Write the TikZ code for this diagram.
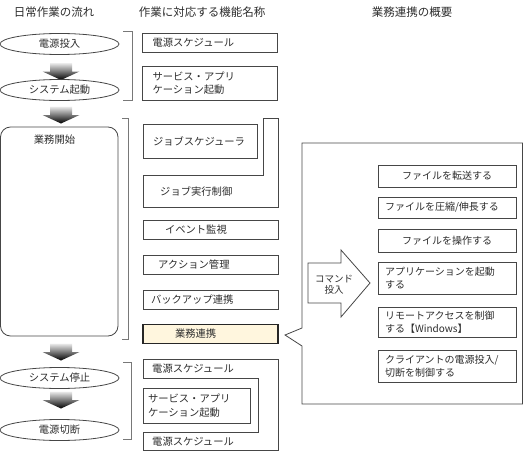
\documentclass[tikz,border=0pt]{standalone}
\usepackage{fontspec}
\setmainfont{Noto Sans CJK JP}
\usepackage{tikz}
\usetikzlibrary{shapes.geometric, arrows, calc, positioning}
\definecolor{linegray}{RGB}{70,70,70}
\definecolor{brackgray}{RGB}{120,120,120}
\definecolor{hlfill}{RGB}{255,246,222}
\definecolor{textgray}{RGB}{45,45,45}
\tikzstyle{heading} = [font=\fontsize{11.5}{13}\selectfont, text=textgray]
\tikzstyle{flow} = [ellipse, draw=linegray, line width=0.8pt, minimum width=119pt, minimum height=21pt, inner sep=0pt, font=\fontsize{10.3}{12}\selectfont]
\tikzstyle{func} = [rectangle, draw=linegray, line width=0.8pt, minimum width=135pt, minimum height=19pt, inner sep=0pt, font=\fontsize{10.3}{13.5}\selectfont]
\tikzstyle{funcl} = [func, inner xsep=10pt, text width=115pt, align=left]
\tikzstyle{task} = [rectangle, draw=linegray, line width=0.8pt, minimum width=138pt, minimum height=22pt, inner sep=0pt, font=\fontsize{10}{13.5}\selectfont]
\tikzstyle{taskl} = [task, inner xsep=7pt, text width=124pt, align=left]
\tikzstyle{plain} = [inner sep=0pt, font=\fontsize{10.3}{13.5}\selectfont, align=left]
\tikzstyle{outline} = [draw=linegray, line width=0.8pt]
\tikzstyle{bracket} = [draw=brackgray, line width=1pt]
\tikzset{dnarrow/.pic={
	\shade[top color=gray!15, bottom color=black] (-11,-8.5) -- (11,-8.5) -- (11,0) -- (18.5,0) -- (0,8.5) -- (-18.5,0) -- (-11,0) -- cycle;
}}

\begin{document}
\begin{tikzpicture}[x=1pt, y=-1pt, every node/.style={text=textgray}]
	\useasboundingbox (0,0) rectangle (524,452);
	% column titles
	\node[heading] (daily) at (54,12) {日常作業の流れ};
	\node[heading] (funcname) at (202,12) {作業に対応する機能名称};
	\node[heading] (linkage) at (412,12) {業務連携の概要};

	% daily flow
	\node[flow] (poweron) at (59.5,44) {電源投入};
	\pic at (61,71.5) {dnarrow};
	\node[flow] (sysstart) at (59.5,90) {システム起動};
	\pic at (61,115) {dnarrow};
	\draw[outline, rounded corners=10pt] (0.5,127) rectangle (118,336);
	\node[plain] (bizstart) at (54.5,140) {業務開始};
	\pic at (61,352) {dnarrow};
	\node[flow] (sysstop) at (59.5,378) {システム停止};
	\pic at (61,400) {dnarrow};
	\node[flow] (poweroff) at (59.5,430) {電源切断};

	% brackets
	\draw[bracket] (123,32) -- (132,32) -- (132,100) -- (123,100);
	\draw[bracket] (122,118) -- (128,118) -- (128,339) -- (122,339);
	\draw[bracket] (123,362) -- (131,362) -- (131,439) -- (123,439);

	% functions
	\node[funcl] (pwsched) at (210,42.5) {電源スケジュール};
	\node[funcl, minimum height=34pt] (svcstart) at (210,83) {サービス・アプリ\\ケーション起動};
	\node[func, minimum width=114pt, minimum height=34pt, inner xsep=10pt, text width=94pt, align=left] (jobsched) at (200,141) {ジョブスケジューラ};
	\draw[outline] (143,175) -- (263,175) -- (263,118) -- (278,118) -- (278,207) -- (143,207) -- cycle;
	\node[plain, anchor=west] (jobctl) at (160,192) {ジョブ実行制御};
	\node[funcl] (event) at (210.5,230) {\hspace*{12pt}イベント監視};
	\node[funcl] (action) at (210.5,265) {\hspace*{5pt}アクション管理};
	\node[funcl, inner xsep=8pt, text width=119pt] (backup) at (210.5,300) {バックアップ連携};
	\node[funcl, fill=hlfill, draw=black!85, line width=1.6pt] (gyomu) at (210.5,334) {\hspace*{22pt}業務連携};
	\draw[outline] (143,359) -- (278,359) -- (278,450) -- (143,450) -- (143,432) -- (258,432) -- (258,378) -- (143,378) -- cycle;
	\node[plain, anchor=west] (pwsched2) at (152,369) {電源スケジュール};
	\node[plain, anchor=west] (pwsched3) at (152,442) {電源スケジュール};
	\node[func, minimum width=107pt, minimum height=35pt, inner xsep=5pt, text width=97pt, align=left] (svcstart2) at (196.5,405.5) {サービス・アプリ\\ケーション起動};

	% linkage overview
	\draw[outline] (302,143) -- (522.5,143) -- (522.5,404) -- (302,404) -- (302,346) -- (285,335) -- (302,328) -- cycle;
	\draw[outline] (308,263) -- (341,263) -- (341,250) -- (370,283) -- (341,317) -- (341,303) -- (308,303) -- cycle;
	\node[inner sep=0pt, align=center, font=\fontsize{9.5}{11}\selectfont] (cmd) at (334,285) {コマンド\\投入};
	\node[task] (transfer) at (447,176) {ファイルを転送する};
	\node[taskl, minimum height=21pt] (compress) at (447,207.5) {ファイルを圧縮/伸長する};
	\node[task, minimum height=23pt] (operate) at (447,240.5) {ファイルを操作する};
	\node[taskl, minimum height=32pt] (appstart) at (447,278) {アプリケーションを起動\\する};
	\node[taskl, minimum height=30pt] (remote) at (447,322) {リモートアクセスを制御\\する【Windows】};
	\node[taskl, minimum height=32pt] (client) at (447,366) {クライアントの電源投入/\\切断を制御する};
\end{tikzpicture}
\end{document}
